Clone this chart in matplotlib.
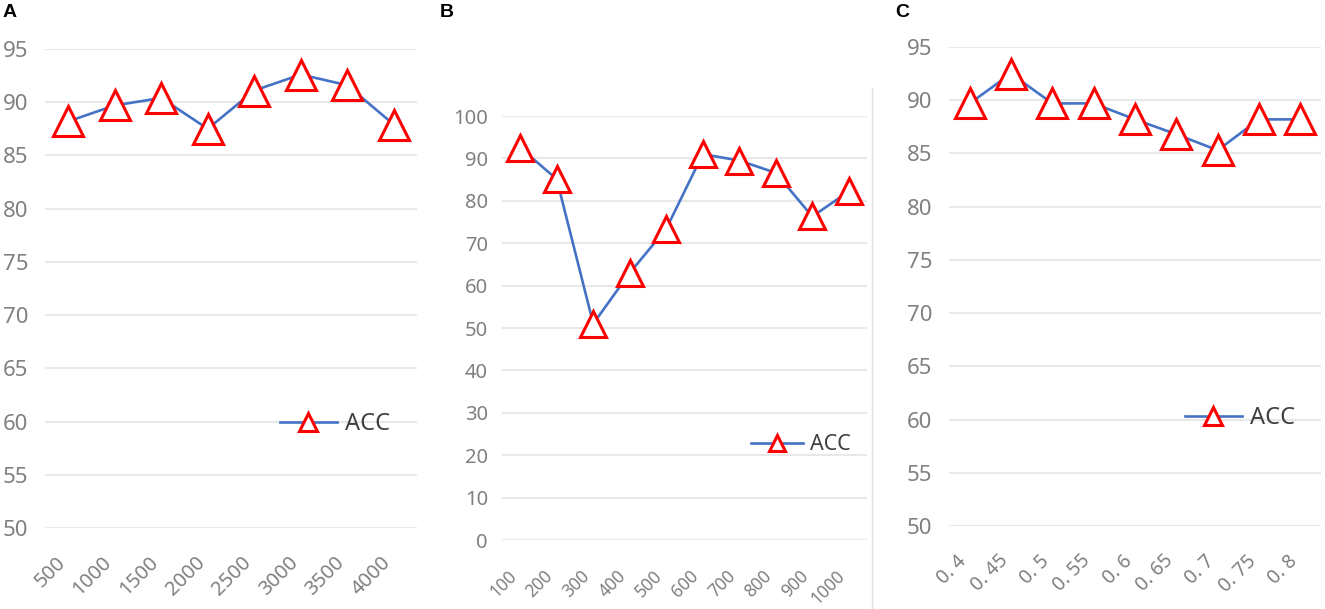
import matplotlib
matplotlib.use("Agg")
import matplotlib.pyplot as plt
from matplotlib.lines import Line2D
from matplotlib.transforms import ScaledTranslation

plt.rcParams['font.family'] = ['Noto Sans', 'DejaVu Sans']

# panel A
a_labels = ['500', '1000', '1500', '2000', '2500', '3000', '3500', '4000']
a_acc = [88.2, 89.7, 90.4, 87.5, 91.1, 92.6, 91.6, 87.9]

# panel B
b_labels = ['100', '200', '300', '400', '500', '600', '700', '800', '900', '1000']
b_acc = [92.5, 85.1, 51.0, 63.0, 73.4, 91.0, 89.5, 86.6, 76.3, 82.2]

# panel C
c_labels = ['0. 4', '0. 45', '0. 5', '0. 55', '0. 6', '0. 65', '0. 7', '0. 75', '0. 8']
c_acc = [89.7, 92.5, 89.7, 89.7, 88.2, 86.8, 85.3, 88.2, 88.2]

W, H = 1325, 609
fig = plt.figure(figsize=(W / 100, H / 100), dpi=100)

LINE = '#4472C4'
GRID = '#e8e8e8'
TICK = '#808080'


def px_axes(x0, x1, ytop, ybot):
    return fig.add_axes([x0 / W, 1 - ybot / H, (x1 - x0) / W, (ybot - ytop) / H])


def draw(ax, labels, acc, ylim, yticks, ms, yfs, xfs, xpad, ypad, leg_xy, leg_fs, leg_ms):
    x = list(range(len(labels)))
    ax.plot(x, acc, color=LINE, lw=1.9, marker='^', ms=ms, mfc='white',
            mec='#ff0000', mew=2.2, clip_on=False, zorder=3, label='ACC')
    ax.set_xlim(-0.5, len(labels) - 0.5)
    ax.set_ylim(*ylim)
    ax.set_yticks(yticks)
    ax.set_xticks(x)
    ax.set_xticklabels(labels, rotation=45, ha='right', va='top', rotation_mode='anchor')
    ax.tick_params(axis='x', length=0, pad=xpad, labelsize=xfs, labelcolor=TICK)
    ax.tick_params(axis='y', length=0, pad=ypad, labelsize=yfs, labelcolor=TICK)
    # nudge the rotated labels left so their ends sit under the ticks
    shift = ScaledTranslation(-13 / 100, 0, fig.dpi_scale_trans)
    for lab in ax.get_xticklabels():
        lab.set_transform(lab.get_transform() + shift)
    ax.grid(axis='y', color=GRID, lw=1.5)
    ax.set_axisbelow(True)
    for s in ax.spines.values():
        s.set_visible(False)
    handle = Line2D([], [], color=LINE, lw=1.9, marker='^', ms=leg_ms, mfc='white',
                    mec='#ff0000', mew=2.2)
    ax.legend([handle], ['ACC'], loc='center left',
              bbox_to_anchor=(leg_xy[0] / W, 1 - leg_xy[1] / H),
              bbox_transform=fig.transFigure, frameon=False, fontsize=leg_fs,
              handlelength=2.4, handletextpad=0.35, borderpad=0, borderaxespad=0,
              labelcolor='#404040')


axA = px_axes(45, 417, 49, 528)
draw(axA, a_labels, a_acc, (50, 95), range(50, 96, 5), 21.5, 16, 14.5, 18, 12,
     (280, 424), 17, 13)

axB = px_axes(502, 867, 116, 540)
draw(axB, b_labels, b_acc, (0, 100), range(0, 101, 10), 18.5, 14.5, 12.5, 19, 10,
     (751, 445), 15.5, 11)

axC = px_axes(949, 1321, 47, 526)
draw(axC, c_labels, c_acc, (50, 95), range(50, 96, 5), 21.5, 16, 14, 18, 12,
     (1185, 418), 17, 12.5)

# panel separator
fig.add_artist(Line2D([872 / W, 872 / W], [0, 1 - 88 / H], transform=fig.transFigure,
                      color='#e2e2e2', lw=1))

for txt, xp in [('A', 3), ('B', 440), ('C', 895)]:
    fig.text(xp / W, 1 - 4 / H, txt, fontsize=14, fontweight='bold', ha='left', va='top',
             family=['Liberation Sans', 'DejaVu Sans'])

fig.savefig('out.png', dpi=100)
